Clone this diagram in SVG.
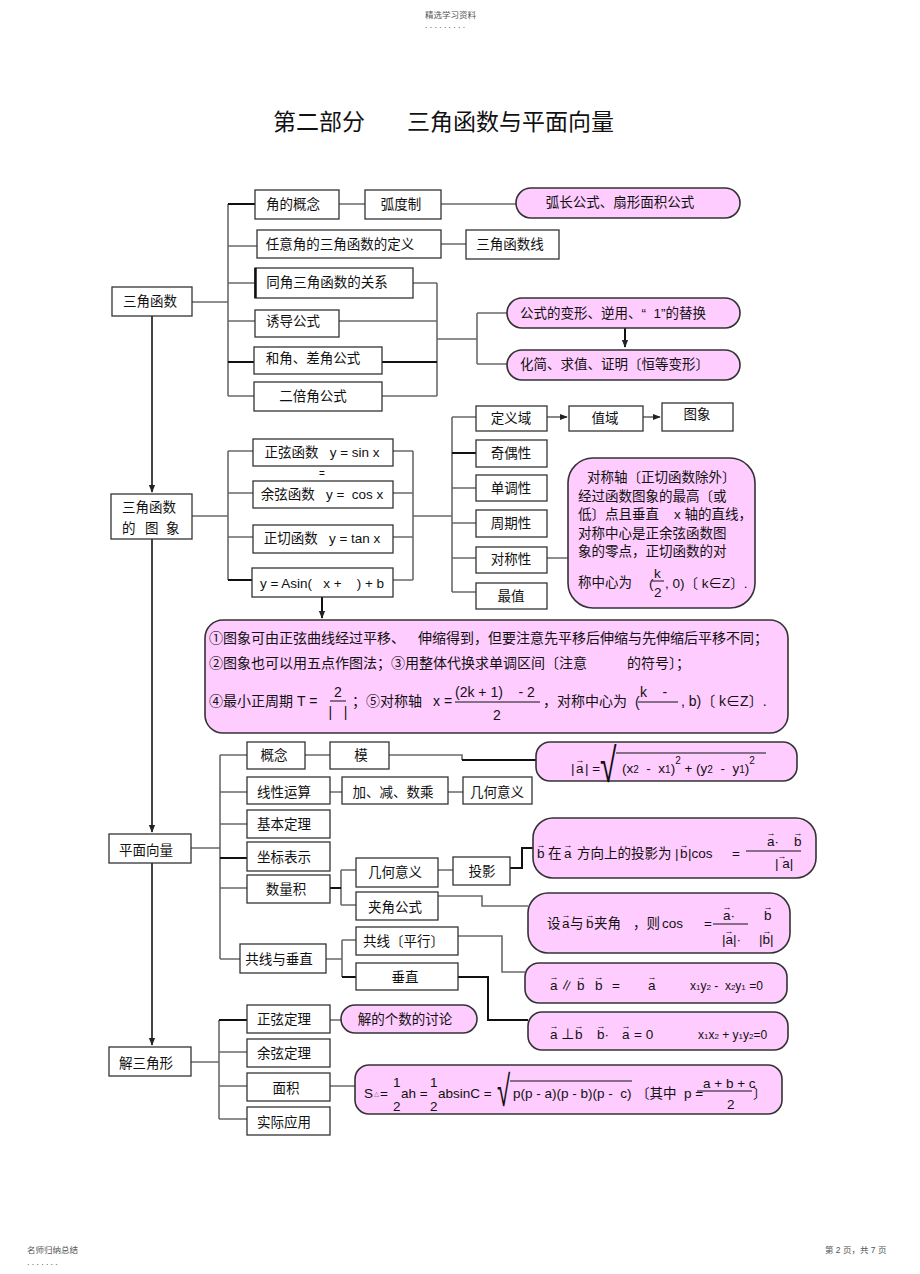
<svg xmlns="http://www.w3.org/2000/svg" width="920" height="1274" viewBox="0 0 920 1274">
<defs>
<style>
.bx{fill:#fff;stroke:#333;stroke-width:1.3}
.pk{fill:#ffccff;stroke:#333;stroke-width:1.6}
.ln{fill:none;stroke:#6a6a6a;stroke-width:1.6}
.lb{fill:none;stroke:#111;stroke-width:2}
.tr{fill:none;stroke:#444;stroke-width:2}
text{font-family:"Liberation Sans","Noto Sans CJK SC",sans-serif;fill:#111;font-size:13.5px;white-space:pre}
.c{text-anchor:middle}
.v{font-size:9px;text-anchor:middle}
.hd{font-size:8.5px;fill:#555}
.ti{font-size:23px}
.bg{font-size:14px}
.sb{font-size:10px}
</style>
<marker id="ah" viewBox="0 0 10 10" refX="9" refY="5" markerUnits="userSpaceOnUse" markerWidth="8" markerHeight="8" orient="auto"><path d="M0,1 L10,5 L0,9 z" fill="#222"/></marker>
</defs>
<rect x="0" y="0" width="920" height="1274" fill="#fff"/>

<g id="header">
<text x="425" y="18" class="hd">精选学习资料</text>
<text x="425" y="28" class="hd">. . . . . . . . .</text>
<text x="27" y="1253" class="hd">名师归纳总结</text>
<text x="27" y="1265" class="hd">. . . . . . .</text>
<text x="825" y="1253" class="hd">第 2 页，共 7 页</text>
</g>
<g id="title">
<text x="273" y="130" class="ti">第二部分</text>
<text x="407" y="130" class="ti">三角函数与平面向量</text>
</g>

<g id="connectors">
<path class="tr" d="M152,316 V492" marker-end="url(#ah)"/>
<path class="tr" d="M152,539 V832" marker-end="url(#ah)"/>
<path class="tr" d="M152,863 V1045" marker-end="url(#ah)"/>
<path class="ln" d="M192,302 H228 M228,204 V396 M228,246 H257 M228,283 H255 M228,321 H255 M228,396 H254 M339,204 H365 M441,204 H516 M441,244 H466 M413,283 H437 M339,321 H437 M382,396 H437 M437,283 V396 M437,339 H477 M477,313 V364 M477,313 H507 M477,364 H507"/>
<path class="lb" d="M228,204 H255 M228,362 H254 M382,362 H437"/>
<path class="lb" d="M625,328 V347" marker-end="url(#ah)"/>
<path class="ln" d="M192,516 H228 M228,451 V580 M228,451 H253 M228,493 H253 M228,537 H253 M393,451 H413 M393,493 H413 M393,537 H413 M393,580 H413 M413,451 V580 M413,516 H452 M452,417 V592 M452,417 H476 M452,488 H476 M452,523 H476 M452,558 H476 M452,592 H476 M547,558 H568"/>
<path class="lb" d="M228,580 H252 M452,453 H476"/>
<path class="ln" d="M547,417 H567" marker-end="url(#ah)"/>
<path class="ln" d="M643,417 H660" marker-end="url(#ah)"/>
<path class="lb" d="M322,597 V618" marker-end="url(#ah)"/>
<path class="ln" d="M191,848 H220 M220,755 V959 M220,755 H247 M220,792 H247 M220,824 H247 M220,888 H247 M220,959 H240 M305,755 H330 M330,792 H342 M448,792 H463 M341,870 V905 M341,870 H356 M341,905 H356 M438,870 H453 M438,896 H482 V906 H528 M326,959 H342 M342,940 V977 M342,940 H356 M458,936 H502 V972 H525 M389,755 H462 V760"/>
<path class="lb" d="M220,858 H247 M330,888 H341 M462,760 H536 M510,868 H522 V848 H533 M342,977 H356 M458,977 H488 V1020 H528"/>
<path class="ln" d="M191,1062 H219 M219,1020 V1119 M219,1052 H247 M219,1086 H247 M219,1119 H247 M330,1020 H341 M330,1086 H355"/>
<path class="lb" d="M219,1020 H247"/>
</g>

<!-- Section 1 -->
<g id="n-sanjiao"><rect class="bx" x="112" y="287" width="80" height="29"/><text x="150" y="306" class="c">三角函数</text></g>
<g id="n-jiao"><rect class="bx" x="255" y="190" width="84" height="29"/><text x="293" y="209" class="c">角的概念</text></g>
<g id="n-hudu"><rect class="bx" x="365" y="190" width="76" height="29"/><text x="401" y="209" class="c">弧度制</text></g>
<g id="n-huchang"><rect class="pk" x="516" y="188" width="224" height="30" rx="15"/><text x="620" y="207" class="c">弧长公式、扇形面积公式</text></g>
<g id="n-renyi"><rect class="bx" x="257" y="230" width="184" height="28"/><text x="340" y="249" class="c">任意角的三角函数的定义</text></g>
<g id="n-sjhsx"><rect class="bx" x="466" y="230" width="93" height="29"/><text x="510" y="249" class="c">三角函数线</text></g>
<g id="n-tongjiao"><rect class="bx" x="255" y="268" width="158" height="30"/><path d="M255.5,268 V298" stroke="#111" stroke-width="2.5"/><text x="327" y="287" class="c">同角三角函数的关系</text></g>
<g id="n-youdao"><rect class="bx" x="255" y="310" width="84" height="27"/><text x="293" y="326" class="c">诱导公式</text></g>
<g id="n-hejiao"><rect class="bx" x="254" y="347" width="128" height="27"/><text x="313" y="363" class="c">和角、差角公式</text></g>
<g id="n-erbei"><rect class="bx" x="254" y="382" width="128" height="29"/><text x="313" y="401" class="c">二倍角公式</text></g>
<g id="n-bianxing"><rect class="pk" x="507" y="298" width="233" height="30" rx="15"/><text x="520" y="318">公式的变形、逆用、“  1”的替换</text></g>
<g id="n-huajian"><rect class="pk" x="507" y="350" width="233" height="30" rx="15"/><text x="520" y="369">化简、求值、证明〔恒等变形〕</text></g>

<!-- Section 2 -->
<g id="n-tuxiang"><rect class="bx" x="111" y="494" width="81" height="45"/><text x="122" y="512">三角函数</text><text y="533"><tspan x="122">的</tspan><tspan x="145">图</tspan><tspan x="166">象</tspan></text></g>
<g id="n-sin"><rect class="bx" x="253" y="439" width="140" height="27"/><text x="322" y="457" class="c">正弦函数   y = sin x</text></g>
<text x="322" y="477" class="c" style="font-size:10px">=</text>
<g id="n-cos"><rect class="bx" x="253" y="481" width="140" height="27"/><text x="322" y="499" class="c">余弦函数   y =  cos x</text></g>
<g id="n-tan"><rect class="bx" x="253" y="525" width="140" height="28"/><text x="322" y="543" class="c">正切函数   y = tan x</text></g>
<g id="n-asin"><rect class="bx" x="252" y="568" width="141" height="29"/><text x="322" y="588" class="c">y = Asin(   x +    ) + b</text></g>
<g id="n-dingyi"><rect class="bx" x="476" y="406" width="71" height="25"/><text x="511" y="423" class="c">定义域</text></g>
<g id="n-zhiyu"><rect class="bx" x="569" y="406" width="74" height="25"/><text x="605" y="423" class="c">值域</text></g>
<g id="n-tx"><rect class="bx" x="662" y="403" width="71" height="28"/><text x="697" y="419" class="c">图象</text></g>
<g id="n-jiou"><rect class="bx" x="476" y="440" width="71" height="27"/><text x="511" y="458" class="c">奇偶性</text></g>
<g id="n-dandiao"><rect class="bx" x="476" y="475" width="71" height="26"/><text x="511" y="493" class="c">单调性</text></g>
<g id="n-zhouqi"><rect class="bx" x="476" y="510" width="71" height="27"/><text x="511" y="528" class="c">周期性</text></g>
<g id="n-duichen"><rect class="bx" x="476" y="547" width="71" height="26"/><text x="511" y="564" class="c">对称性</text></g>
<g id="n-zuizhi"><rect class="bx" x="476" y="583" width="71" height="26"/><text x="511" y="601" class="c">最值</text></g>
<g id="n-callout"><rect class="pk" x="568" y="458" width="187" height="150" rx="25"/>
<text x="587" y="482">对称轴〔正切函数除外〕</text>
<text x="578" y="501">经过函数图象的最高〔或</text>
<text x="578" y="519">低〕点且垂直    x 轴的直线，</text>
<text x="578" y="538">对称中心是正余弦函数图</text>
<text x="578" y="556">象的零点，正切函数的对</text>
<text x="578" y="587">称中心为</text>
<text x="649" y="588">(</text><text x="654" y="578">k</text><path d="M652,581 H664" stroke="#111" stroke-width="1"/><text x="654" y="597">2</text>
<text x="665" y="588">, 0)〔 k∈Z〕.</text>
</g>
<g id="n-bigbox"><rect class="pk" x="205" y="620" width="583" height="113" rx="18"/>
<text x="209" y="643" class="bg">①图象可由正弦曲线经过平移、</text>
<text x="418" y="643" class="bg">伸缩得到，但要注意先平移后伸缩与先伸缩后平移不同；</text>
<text x="209" y="668" class="bg">②图象也可以用五点作图法；③用整体代换求单调区间〔注意</text>
<text x="627" y="668" class="bg">的符号〕；</text>
<text x="209" y="706" class="bg">④最小正周期</text>
<text x="297" y="706" class="bg">T =</text>
<text x="338" y="697" class="bg c">2</text><path d="M330,701 H346" stroke="#111" stroke-width="1"/><text x="338" y="717" class="bg c">|   |</text>
<text x="352" y="706" class="bg">；⑤对称轴</text>
<text x="433" y="706" class="bg">x =</text>
<text x="455" y="697" class="bg">(2k + 1)    - 2</text><path d="M455,702 H540" stroke="#111" stroke-width="1"/><text x="497" y="720" class="bg c">2</text>
<text x="543" y="706" class="bg">，对称中心为</text>
<text x="635" y="707" class="bg">(</text><text x="640" y="697" class="bg">k    -</text><path d="M638,702 H678" stroke="#111" stroke-width="1"/>
<text x="681" y="706" class="bg">, b)〔 k∈Z〕.</text>
</g>

<!-- Section 3 -->
<g id="n-pmxl"><rect class="bx" x="109" y="834" width="82" height="29"/><text x="146" y="855" class="c">平面向量</text></g>
<g id="n-gainian"><rect class="bx" x="247" y="742" width="58" height="27"/><text x="274" y="760" class="c">概念</text></g>
<g id="n-mo"><rect class="bx" x="330" y="742" width="59" height="27"/><text x="361" y="760" class="c">模</text></g>
<g id="n-mofml"><rect class="pk" x="536" y="742" width="261" height="39" rx="14"/>
<text x="571" y="773">|</text><text x="576" y="773">a</text><text x="580" y="763" class="v">→</text><text x="585" y="773">| =</text>
<text transform="translate(600,782) scale(1,1.6)" style="font-size:30px">√</text><path d="M616,753 H766" stroke="#111" stroke-width="1.2"/>
<text x="622" y="773">(x<tspan class="sb">2</tspan>  -  x<tspan class="sb">1</tspan>)<tspan class="sb" dy="-9">2</tspan><tspan dy="9"> + (y</tspan><tspan class="sb">2</tspan>  -  y<tspan class="sb">1</tspan>)<tspan class="sb" dy="-9">2</tspan></text>
</g>
<g id="n-xianxing"><rect class="bx" x="247" y="777" width="83" height="27"/><text x="284" y="797" class="c">线性运算</text></g>
<g id="n-jiajian"><rect class="bx" x="342" y="777" width="106" height="27"/><text x="393" y="797" class="c">加、减、数乘</text></g>
<g id="n-jihe1"><rect class="bx" x="463" y="777" width="69" height="27"/><text x="497" y="797" class="c">几何意义</text></g>
<g id="n-jiben"><rect class="bx" x="247" y="810" width="83" height="28"/><text x="284" y="829" class="c">基本定理</text></g>
<g id="n-zuobiao"><rect class="bx" x="247" y="842" width="83" height="29"/><text x="284" y="862" class="c">坐标表示</text></g>
<g id="n-shuliang"><rect class="bx" x="247" y="875" width="83" height="28"/><text x="286" y="894" class="c">数量积</text></g>
<g id="n-jihe2"><rect class="bx" x="356" y="858" width="82" height="29"/><text x="395" y="877" class="c">几何意义</text></g>
<g id="n-jiajiao"><rect class="bx" x="356" y="892" width="82" height="28"/><text x="395" y="912" class="c">夹角公式</text></g>
<g id="n-touying"><rect class="bx" x="453" y="857" width="57" height="28"/><text x="482" y="876" class="c">投影</text></g>
<g id="n-tyfml"><rect class="pk" x="533" y="818" width="283" height="60" rx="20"/>
<text x="537" y="858">b</text><text x="541" y="848" class="v">→</text>
<text x="548" y="858">在</text>
<text x="564" y="858">a</text><text x="568" y="848" class="v">→</text>
<text x="577" y="858">方向上的投影为</text>
<text x="675" y="858">|</text><text x="680" y="858">b</text><text x="684" y="848" class="v">→</text><text x="688" y="858">|cos</text>
<text x="732" y="858">=</text>
<text x="767" y="846">a·</text><text x="771" y="836" class="v">→</text><text x="794" y="846">b</text><text x="798" y="836" class="v">→</text>
<path d="M746,851 H801" stroke="#111" stroke-width="1"/>
<text x="775" y="868">| a|</text><text x="782" y="859" class="v">→</text>
</g>
<g id="n-jjfml"><rect class="pk" x="528" y="893" width="262" height="60" rx="20"/>
<text x="547" y="928">设</text>
<text x="562" y="928">a</text><text x="566" y="918" class="v">→</text>
<text x="570" y="928">与</text>
<text x="586" y="928">b</text><text x="590" y="918" class="v">→</text>
<text x="594" y="928">夹角</text>
<text x="633" y="928">，则</text>
<text x="662" y="928">cos</text>
<text x="704" y="928">=</text>
<text x="723" y="920">a·</text><text x="727" y="910" class="v">→</text><text x="764" y="920">b</text><text x="768" y="910" class="v">→</text>
<path d="M713,924 H748" stroke="#111" stroke-width="1"/>
<text x="722" y="944">|a|·</text><text x="729" y="934" class="v">→</text><text x="759" y="944">|b|</text><text x="767" y="934" class="v">→</text>
</g>
<g id="n-gongchui"><rect class="bx" x="240" y="944" width="86" height="29"/><text x="279" y="964" class="c">共线与垂直</text></g>
<g id="n-gongxian"><rect class="bx" x="356" y="927" width="102" height="28"/><text x="363" y="946">共线〔平行〕</text></g>
<g id="n-chuizhi"><rect class="bx" x="356" y="963" width="102" height="27"/><text x="405" y="982" class="c">垂直</text></g>
<g id="n-pxfml"><rect class="pk" x="525" y="963" width="262" height="40" rx="14"/>
<text x="550" y="990">a</text><text x="554" y="980" class="v">→</text>
<text x="560" y="990">∥</text>
<text x="577" y="990">b</text><text x="581" y="980" class="v">→</text>
<text x="595" y="990">b</text><text x="599" y="980" class="v">→</text>
<text x="612" y="990">=</text>
<text x="648" y="990">a</text><text x="652" y="980" class="v">→</text>
<text x="690" y="990" style="font-size:12px">x<tspan style="font-size:8px">1</tspan>y<tspan style="font-size:8px">2</tspan> -  x<tspan style="font-size:8px">2</tspan>y<tspan style="font-size:8px">1</tspan> =0</text>
</g>
<g id="n-czfml"><rect class="pk" x="528" y="1012" width="260" height="38" rx="14"/>
<text x="550" y="1039">a</text><text x="554" y="1029" class="v">→</text>
<text x="561" y="1039">⊥</text>
<text x="575" y="1039">b</text><text x="579" y="1029" class="v">→</text>
<text x="597" y="1039">b·</text><text x="601" y="1029" class="v">→</text>
<text x="622" y="1039">a</text><text x="626" y="1029" class="v">→</text>
<text x="634" y="1039">= 0</text>
<text x="698" y="1039" style="font-size:12px">x<tspan style="font-size:8px">1</tspan>x<tspan style="font-size:8px">2</tspan> + y<tspan style="font-size:8px">1</tspan>y<tspan style="font-size:8px">2</tspan>=0</text>
</g>

<!-- Section 4 -->
<g id="n-jiesanjiao"><rect class="bx" x="109" y="1047" width="82" height="29"/><text x="146" y="1068" class="c">解三角形</text></g>
<g id="n-zhengxian"><rect class="bx" x="247" y="1005" width="83" height="28"/><text x="284" y="1024" class="c">正弦定理</text></g>
<g id="n-yuxian"><rect class="bx" x="247" y="1039" width="83" height="28"/><text x="284" y="1058" class="c">余弦定理</text></g>
<g id="n-mianji"><rect class="bx" x="247" y="1073" width="83" height="28"/><text x="286" y="1093" class="c">面积</text></g>
<g id="n-shiji"><rect class="bx" x="247" y="1107" width="83" height="28"/><text x="284" y="1127" class="c">实际应用</text></g>
<g id="n-taolun"><rect class="pk" x="341" y="1005" width="136" height="28" rx="14"/><text x="405" y="1024" class="c">解的个数的讨论</text></g>
<g id="n-sfml"><rect class="pk" x="355" y="1065" width="427" height="49" rx="14"/>
<text x="364" y="1098">S</text><text x="374" y="1096" style="font-size:5px">△</text>
<text x="380" y="1098">=</text>
<text x="393" y="1087">1</text><text x="393" y="1111">2</text>
<text x="401" y="1098">ah =</text>
<text x="430" y="1087">1</text><text x="430" y="1111">2</text>
<text x="438" y="1098">absinC =</text>
<text transform="translate(497,1106) scale(1,1.8)" style="font-size:24px">√</text><path d="M510,1081 H632" stroke="#111" stroke-width="1.2"/>
<text x="513" y="1098">p(p - a)(p - b)(p -  c)</text>
<text x="636" y="1098">〔其中  p =</text>
<text x="703" y="1088">a + b + c</text><path d="M697,1091 H752" stroke="#111" stroke-width="1"/>
<text x="727" y="1109">2</text>
<text x="753" y="1098">〕</text>
</g>
</svg>
